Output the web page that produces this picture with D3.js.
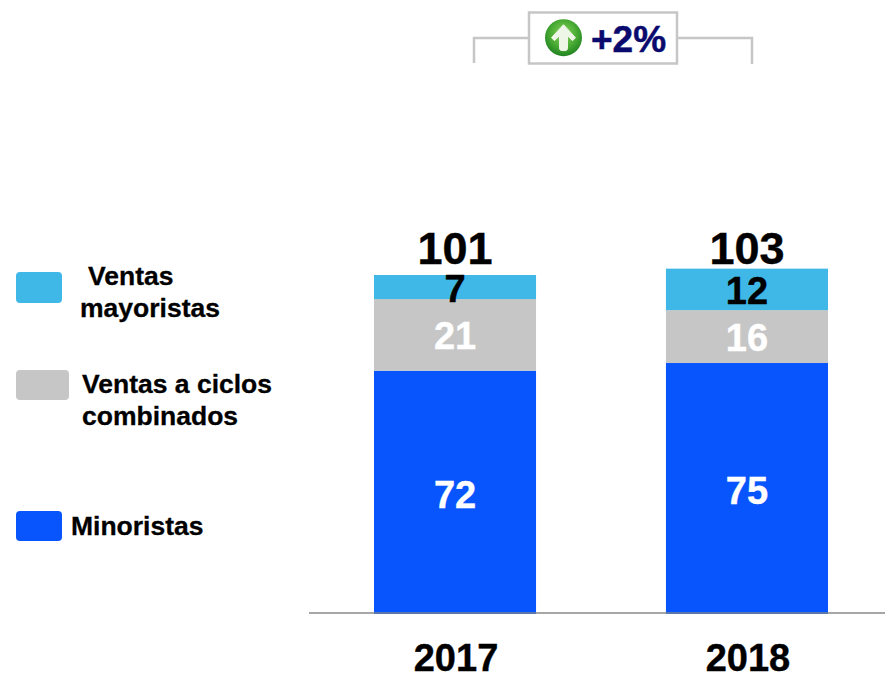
<!DOCTYPE html>
<html>
<head>
<meta charset="utf-8">
<script src="https://cdn.jsdelivr.net/npm/d3@7"></script>
<style>
html, body { margin: 0; padding: 0; background: #fff; }
text { font-family: "Liberation Sans", Arial, sans-serif; font-weight: bold; }
</style>
</head>
<body>
<svg id="chart" width="885" height="674"></svg>
<script>
var years = ["2017", "2018"];
var totals = [101, 103];
// bar heights show unrounded values, the labels round them
var minoristas = [72.4, 74.7];
var ciclos = [21.4, 15.8];
var mayoristas = [7.2, 12.4];
var growthLabel = "+2%";

var svg = d3.select("#chart");
var fmt = d3.format(".0f");

var x = d3.scaleBand().domain(years).range([374, 828]).paddingInner(0.445).paddingOuter(0);
var y = d3.scaleLinear().domain([0, 101]).range([613, 275]);

var series = [
    {key: "minoristas", values: minoristas, color: "#0855fe", text: "#fff", baselines: [508, 504]},
    {key: "ciclos", values: ciclos, color: "#c6c6c6", text: "#fff", baselines: [349, 351]},
    {key: "mayoristas", values: mayoristas, color: "#3fb8e8", text: "#000", baselines: [302, 304]}
];

var rows = years.map(function (year, i) {
    return {year: year, minoristas: minoristas[i], ciclos: ciclos[i], mayoristas: mayoristas[i]};
});
var stacked = d3.stack().keys(series.map(function (s) { return s.key; }))(rows);

// bars
stacked.forEach(function (layer, k) {
    svg.append("g").selectAll("rect")
        .data(layer)
        .enter().append("rect")
        .attr("x", function (d) { return x(d.data.year); })
        .attr("width", x.bandwidth())
        .attr("y", function (d) { return y(d[1]); })
        .attr("height", function (d) { return y(d[0]) - y(d[1]); })
        .attr("fill", series[k].color);
});

// axis line
svg.append("line")
    .attr("x1", 309).attr("x2", 885)
    .attr("y1", 613).attr("y2", 613)
    .attr("stroke", "#a6a6a6").attr("stroke-width", 2);
svg.selectAll(".bar-foot")
    .data(years)
    .enter().append("line")
    .attr("class", "bar-foot")
    .attr("x1", function (d) { return x(d); })
    .attr("x2", function (d) { return x(d) + x.bandwidth(); })
    .attr("y1", 613).attr("y2", 613)
    .attr("stroke", "#5b78ad").attr("stroke-width", 2);

// segment labels
series.forEach(function (s) {
    svg.append("g").selectAll("text")
        .data(s.values)
        .enter().append("text")
        .attr("x", function (d, i) { return x(years[i]) + x.bandwidth() / 2; })
        .attr("y", function (d, i) { return s.baselines[i]; })
        .attr("text-anchor", "middle")
        .attr("font-size", 38)
        .attr("fill", s.text)
        .attr("stroke", s.text)
        .attr("stroke-width", 0.4)
        .text(function (d) { return fmt(d); });
});

// totals
svg.append("g").selectAll("text")
    .data(totals)
    .enter().append("text")
    .attr("x", function (d, i) { return x(years[i]) + x.bandwidth() / 2; })
    .attr("y", 264)
    .attr("text-anchor", "middle")
    .attr("font-size", 45)
    .attr("fill", "#000")
    .attr("stroke", "#000")
    .attr("stroke-width", 0.4)
    .text(function (d) { return d; });

// year labels
svg.append("g").selectAll("text")
    .data(years)
    .enter().append("text")
    .attr("x", function (d) { return x(d) + x.bandwidth() / 2 + 1; })
    .attr("y", 671)
    .attr("text-anchor", "middle")
    .attr("font-size", 38)
    .attr("fill", "#000")
    .attr("stroke", "#000")
    .attr("stroke-width", 0.4)
    .text(function (d) { return d; });

// legend
var legendBoxes = [
    {x: 16, y: 272, w: 46, h: 31, color: "#3fb8e8"},
    {x: 16, y: 370, w: 53, h: 30, color: "#c6c6c6"},
    {x: 16, y: 511, w: 46, h: 30, color: "#0855fe"}
];
svg.append("g").selectAll("rect")
    .data(legendBoxes)
    .enter().append("rect")
    .attr("x", function (d) { return d.x; })
    .attr("y", function (d) { return d.y; })
    .attr("width", function (d) { return d.w; })
    .attr("height", function (d) { return d.h; })
    .attr("rx", 4)
    .attr("fill", function (d) { return d.color; });

var legendLines = [
    {t: "Ventas", x: 88, y: 285},
    {t: "mayoristas", x: 80, y: 317},
    {t: "Ventas a ciclos", x: 82, y: 393},
    {t: "combinados", x: 82, y: 425},
    {t: "Minoristas", x: 71, y: 535}
];
svg.append("g").selectAll("text")
    .data(legendLines)
    .enter().append("text")
    .attr("x", function (d) { return d.x; })
    .attr("y", function (d) { return d.y; })
    .attr("font-size", 26.5)
    .attr("fill", "#000")
    .attr("stroke", "#000")
    .attr("stroke-width", 0.3)
    .text(function (d) { return d.t; });

// growth bracket
var bracket = d3.path();
bracket.moveTo(474, 63);
bracket.lineTo(474, 38);
bracket.lineTo(752, 38);
bracket.lineTo(752, 64);
svg.append("path")
    .attr("d", bracket.toString())
    .attr("fill", "none")
    .attr("stroke", "#c6c6c6")
    .attr("stroke-width", 2.5);
svg.append("rect")
    .attr("x", 529).attr("y", 12.5)
    .attr("width", 148).attr("height", 51)
    .attr("fill", "#fff")
    .attr("stroke", "#c6c6c6").attr("stroke-width", 2.5);

// green arrow icon
var grad = svg.append("defs").append("radialGradient")
    .attr("id", "greenBall")
    .attr("cx", "50%").attr("cy", "40%").attr("r", "62%");
grad.append("stop").attr("offset", "0%").attr("stop-color", "#8fd163");
grad.append("stop").attr("offset", "55%").attr("stop-color", "#4cae35");
grad.append("stop").attr("offset", "100%").attr("stop-color", "#1d7f1f");

var icon = svg.append("g").attr("transform", "translate(563.5,37.7)");
icon.append("circle").attr("r", 18.5).attr("fill", "url(#greenBall)");
icon.append("path")
    .attr("d", "M0,-13 L12,0 L9,3 L4,-2 L4,11 Q4,13 0,13 Q-4,13 -4,11 L-4,-2 L-9,3 L-12,0 Z")
    .attr("fill", "#eef6e8")
    .attr("stroke", "#eef6e8")
    .attr("stroke-width", 1)
    .attr("stroke-linejoin", "round");

svg.append("text")
    .attr("x", 591)
    .attr("y", 52)
    .attr("font-size", 37)
    .attr("fill", "#0a0a6e")
    .attr("stroke", "#0a0a6e")
    .attr("stroke-width", 0.5)
    .text(growthLabel);
</script>
</body>
</html>
